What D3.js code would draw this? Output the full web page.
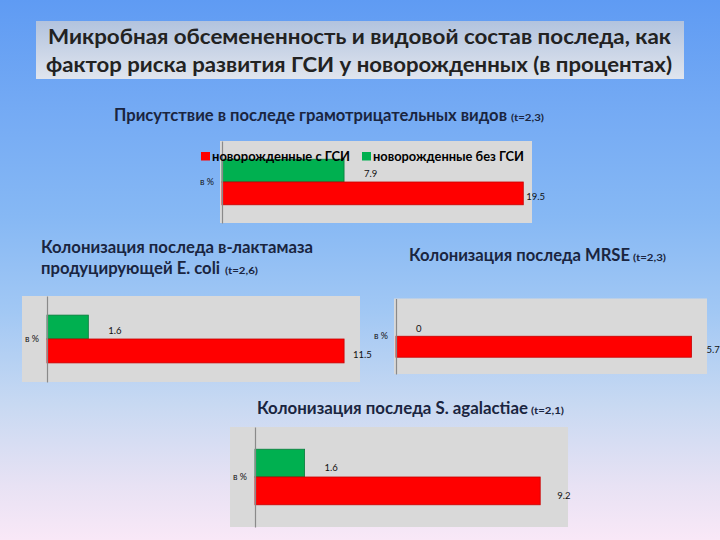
<!DOCTYPE html>
<html><head><meta charset="utf-8">
<script src="https://cdn.jsdelivr.net/npm/d3@7"></script>
<style>html,body{margin:0;padding:0;background:#fff}svg{display:block}</style>
</head><body>
<script>
// ---------- data ----------
const mainTitle = ["Микробная обсемененность и видовой состав последа, как",
                   "фактор риска развития ГСИ у новорожденных (в процентах)"];
const panelTitles = [
  ["Присутствие в последе грамотрицательных видов"],
  ["Колонизация последа в-лактамаза", "продуцирующей E. coli"],
  ["Колонизация последа MRSE"],
  ["Колонизация последа S. agalactiae"]
];
const tStats = ["(t=2,3)", "(t=2,6)", "(t=2,3)", "(t=2,1)"];
const seriesNames = ["новорожденные с ГСИ", "новорожденные без ГСИ"];
const categories = ["в %"];
const withGSI = [19.5, 11.5, 5.7, 9.2];
const withoutGSI = [7.9, 1.6, 0, 1.6];
const axisMax = [20, 12, 6, 10];

// ---------- layout ----------
const W = 720, H = 540;
const FONT = "Lato, 'Open Sans', 'DejaVu Sans', sans-serif";
const svg = d3.select("body").append("svg").attr("width", W).attr("height", H);
const defs = svg.append("defs");
const bg = defs.append("linearGradient").attr("id","bg").attr("x1",0).attr("y1",0).attr("x2",0).attr("y2",1);
[[0,"#5f9bf3"],[0.2,"#74aaf4"],[0.4,"#86b8f4"],[0.58,"#a2c8f4"],[0.75,"#c8d9f2"],[0.9,"#e8e2f4"],[1,"#f9e8f7"]]
  .forEach(([o,c])=>bg.append("stop").attr("offset",o).attr("stop-color",c));
const tb = defs.append("linearGradient").attr("id","tb").attr("x1",0).attr("y1",0).attr("x2",0).attr("y2",1);
[[0,"#b2c3de"],[1,"#e0e5ee"]].forEach(([o,c])=>tb.append("stop").attr("offset",o).attr("stop-color",c));

svg.append("rect").attr("width",W).attr("height",H).attr("fill","url(#bg)");

// main title box
svg.append("rect").attr("x",36).attr("y",21).attr("width",648).attr("height",58).attr("fill","url(#tb)");
const titleLayout = [{x:48, y:44, w:623},{x:46, y:72, w:626}];
mainTitle.forEach((t,i)=>{
  svg.append("text").attr("x",titleLayout[i].x).attr("y",titleLayout[i].y)
    .attr("textLength",titleLayout[i].w).attr("lengthAdjust","spacingAndGlyphs")
    .attr("font-family",FONT).attr("font-weight",700).attr("font-size",20)
    .attr("fill","#222").text(t);
});

const panels = [
  {gx:220, gy:141, gw:312, gh:82, ax:222, xr:531, redDx:3,
   lines:[{x:114,y:121,w:393}], tx:511, legend:true},
  {gx:22, gy:296, gw:338, gh:86, ax:47, xr:357, redDx:9,
   lines:[{x:41,y:253,w:272},{x:41,y:274,w:179}], tx:225},
  {gx:394, gy:298.5, gw:313, gh:75.5, ax:396, xr:707, redDx:15,
   lines:[{x:409,y:261,w:221}], tx:633},
  {gx:230, gy:427, gw:338, gh:100, ax:255, xr:565, redDx:17,
   lines:[{x:257,y:414,w:271}], tx:531}
];
const colors = {red:"#ff0000", green:"#00b050"};
const strokes = {red:"#c80000", green:"#0a7a3c"};

panels.forEach((p,i)=>{
  const g = svg.append("g");
  // title
  const lines = panelTitles[i];
  lines.forEach((t,j)=>{
    const L = p.lines[j];
    g.append("text").attr("x",L.x).attr("y",L.y)
      .attr("textLength",L.w).attr("lengthAdjust","spacingAndGlyphs")
      .attr("font-family",FONT).attr("font-weight",700).attr("font-size",16.5)
      .attr("fill","#1a2540").text(t);
    if (j === lines.length-1) {
      g.append("text").attr("x",p.tx).attr("y",L.y)
        .attr("textLength",33).attr("lengthAdjust","spacingAndGlyphs")
        .attr("font-family",FONT).attr("font-weight",700).attr("font-size",10)
        .attr("fill","#1a2540").text(tStats[i]);
    }
  });
  // plot background
  g.append("rect").attr("x",p.gx).attr("y",p.gy).attr("width",p.gw).attr("height",p.gh).attr("fill","#d9d9d9");

  const x = d3.scaleLinear().domain([0, axisMax[i]]).range([p.ax, p.xr]);
  const yCat = d3.scaleBand().domain(categories).range([p.gy, p.gy+p.gh]).paddingInner(0).paddingOuter(0.4);
  const ySer = d3.scaleBand().domain(["green","red"]).range([0, yCat.bandwidth()]);

  const rows = categories.map((c)=>({cat:c, items:[
    {key:"green", v:withoutGSI[i]},
    {key:"red", v:withGSI[i]}
  ]}));

  const cg = g.selectAll("g.cat").data(rows).join("g").attr("class","cat")
    .attr("transform",d=>`translate(0,${yCat(d.cat)})`);
  cg.selectAll("rect").data(d=>d.items.filter(e=>e.v>0)).join("rect")
    .attr("x",x(0)).attr("y",d=>ySer(d.key))
    .attr("width",d=>x(d.v)-x(0)).attr("height",ySer.bandwidth())
    .attr("fill",d=>colors[d.key]).attr("stroke",d=>strokes[d.key]).attr("stroke-width",0.8);
  cg.selectAll("text").data(d=>d.items).join("text")
    .attr("x",d=>x(d.v) + (d.key==="green" ? 20 : p.redDx))
    .attr("y",d=>ySer(d.key)+ySer.bandwidth()*0.8)
    .attr("font-family",FONT).attr("font-size",9.5).attr("fill","#111")
    .text(d=>d.v.toFixed(d.v===0?0:1));

  // category axis
  const ax = g.append("g").attr("transform",`translate(${p.ax},0)`)
    .call(d3.axisLeft(yCat).tickSize(0).tickPadding(8));
  ax.select(".domain").attr("stroke","#8a8a8a").attr("stroke-width",1.2);
  ax.selectAll("text").attr("font-family",FONT).attr("font-size",9).attr("fill","#111");

  if (p.legend) {
    const lg = svg.append("g").attr("font-family",FONT).attr("font-weight",700).attr("font-size",13);
    const items = [{name:seriesNames[0], c:colors.red, x:201, w:138},
                   {name:seriesNames[1], c:colors.green, x:362, w:151}];
    items.forEach(it=>{
      lg.append("rect").attr("x",it.x).attr("y",152).attr("width",9).attr("height",8.5).attr("fill",it.c);
      lg.append("text").attr("x",it.x+11).attr("y",161).attr("textLength",it.w)
        .attr("lengthAdjust","spacingAndGlyphs").attr("fill","#000").text(it.name);
    });
  }
});
</script>
</body></html>
